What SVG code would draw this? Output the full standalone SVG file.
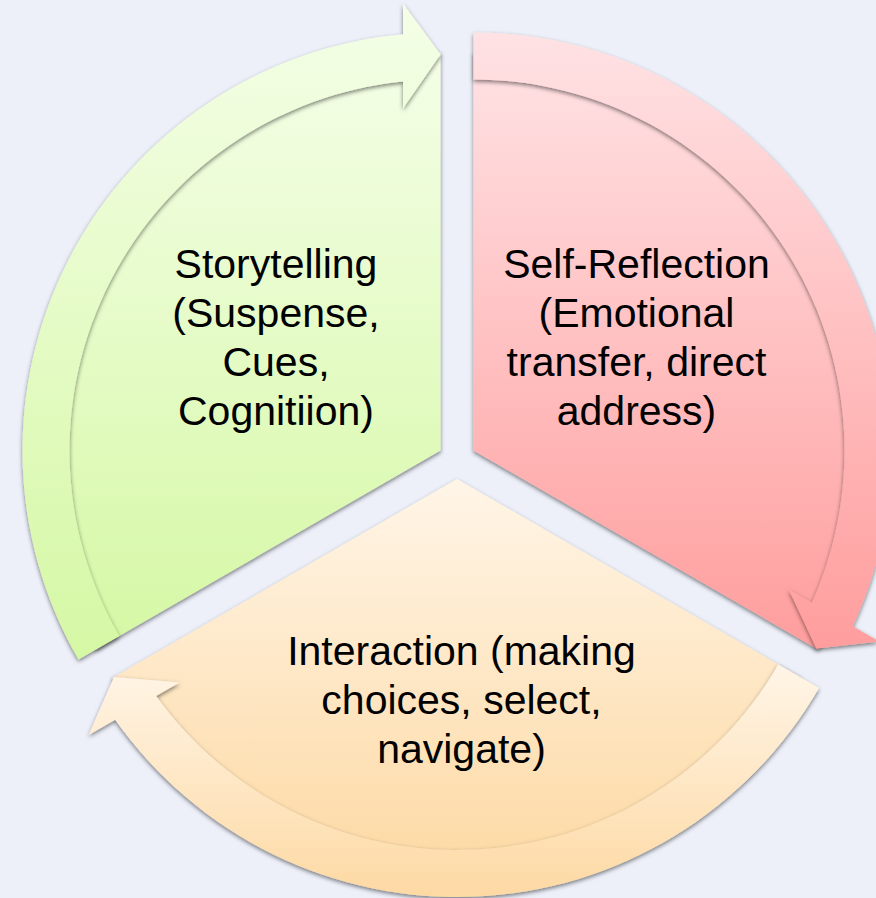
<svg xmlns="http://www.w3.org/2000/svg" width="876" height="898" viewBox="0 0 876 898">
  <style>
    .label { font-family: "Liberation Sans", Arial, sans-serif; font-size: 41px; fill: #000; text-anchor: middle; }
    .shape { filter: url(#soft-shadow); }
  </style>
  <defs>
    <filter id="soft-shadow" x="-10%" y="-10%" width="120%" height="120%">
      <feDropShadow dx="0" dy="2" stdDeviation="2.2" flood-color="#000" flood-opacity="0.5"/>
    </filter>
    <linearGradient id="green-fill" x1="0" y1="0" x2="0" y2="1">
      <stop offset="0" stop-color="#F4FEE7"/>
      <stop offset="1" stop-color="#D5F8A4"/>
    </linearGradient>
    <linearGradient id="red-fill" x1="0" y1="0" x2="0" y2="1">
      <stop offset="0" stop-color="#FFE2E4"/>
      <stop offset="1" stop-color="#FF9D9D"/>
    </linearGradient>
    <linearGradient id="orange-fill" x1="0" y1="0" x2="0" y2="1">
      <stop offset="0" stop-color="#FFF5E7"/>
      <stop offset="1" stop-color="#FDD9A3"/>
    </linearGradient>
  </defs>

  <rect width="876" height="898" fill="#EDF0F9"/>

  <!-- Segment: Storytelling -->
  <g id="storytelling">
    <path class="shape" fill="url(#green-fill)" d="M440.5 450.5 L95.82 649.5 A398 398 0 0 1 440.5 52.5 Z"/>
    <text class="label" x="276" y="278">Storytelling</text>
    <text class="label" x="276" y="327">(Suspense,</text>
    <text class="label" x="276" y="376">Cues,</text>
    <text class="label" x="276" y="425">Cognitiion)</text>
  </g>

  <!-- Segment: Self-Reflection -->
  <g id="self-reflection">
    <path class="shape" fill="url(#red-fill)" d="M473.5 450.5 L473.5 52.5 A398 398 0 0 1 818.18 649.5 Z"/>
    <text class="label" x="636.5" y="278">Self-Reflection</text>
    <text class="label" x="636.5" y="327">(Emotional</text>
    <text class="label" x="636.5" y="376">transfer, direct</text>
    <text class="label" x="636.5" y="425">address)</text>
  </g>

  <!-- Segment: Interaction -->
  <g id="interaction">
    <path class="shape" fill="url(#orange-fill)" d="M457 479 L801.68 678 A398 398 0 0 1 112.32 678 Z"/>
    <text class="label" x="461.5" y="665">Interaction (making</text>
    <text class="label" x="461.5" y="714">choices, select,</text>
    <text class="label" x="461.5" y="763">navigate)</text>
  </g>

  <!-- Circular arrows running clockwise round the rim -->
  <g id="connectors">
    <path class="shape" fill="url(#green-fill)" d="M78.5 659.5 A418 418 0 0 1 403 34.19 L403 3.5 L440.5 54.5 L403 108.5 L403 81.4 A371 371 0 0 0 119.2 636 Z"/>
    <path class="shape" fill="url(#red-fill)" d="M473.5 32.5 A418 418 0 0 1 852.79 626.18 L879.36 641.52 L816.45 648.5 L788.43 589.02 L811.9 602.57 A371 371 0 0 0 473.5 79.5 Z"/>
    <path class="shape" fill="url(#orange-fill)" d="M819 688 A418 418 0 0 1 115.21 719.64 L88.64 734.98 L114.05 677 L179.57 682.48 L156.1 696.03 A371 371 0 0 0 778.3 664.5 Z"/>
  </g>
</svg>
